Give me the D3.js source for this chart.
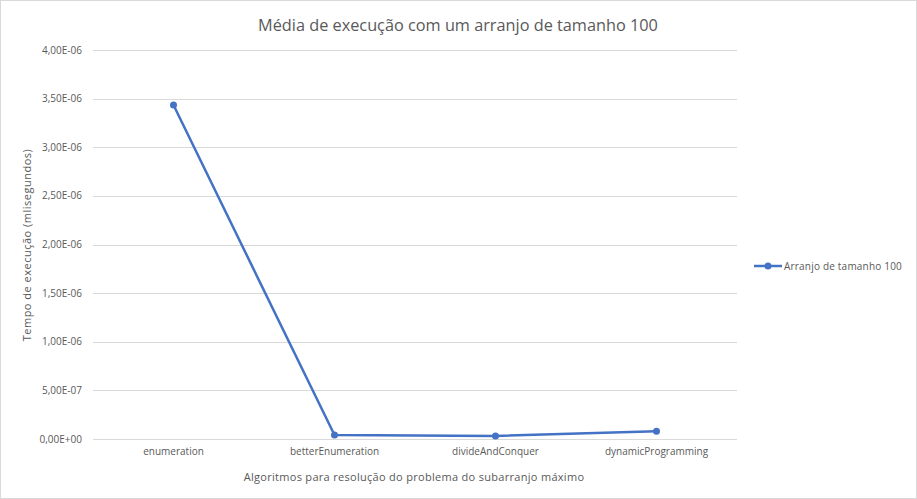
<!DOCTYPE html>
<html><head><meta charset="utf-8">
<script src="https://cdn.jsdelivr.net/npm/d3@7"></script>
<style>body{margin:0;background:#fff}svg{display:block}text{font-family:"Open Sans","Noto Sans",sans-serif}</style>
</head><body><svg id="c" width="917" height="499"></svg>
<script>
const categories = ["enumeration","betterEnumeration","divideAndConquer","dynamicProgramming"];
const values = [3.434e-6, 4.1e-8, 3.1e-8, 7.9e-8];
const yTicks = [0,5e-7,1e-6,1.5e-6,2e-6,2.5e-6,3e-6,3.5e-6,4e-6];
const seriesName = "Arranjo de tamanho 100";
const title = "Média de execução com um arranjo de tamanho 100";
const xTitle = "Algoritmos para resolução do problema do subarranjo máximo";
const yTitle = "Tempo de execução (mlisegundos)";

const svg = d3.select("#c");
svg.append("rect").attr("x",0.5).attr("y",0.5).attr("width",916).attr("height",498).attr("fill","#fff").attr("stroke","#d9d9d9");
const L=93,R=737,T=50,B=439;
const x = d3.scaleBand().domain(categories).range([L,R]);
const y = d3.scaleLinear().domain([0,4e-6]).range([B,T]);
const fmt = v => { const s = v.toExponential(2).toUpperCase().replace(".",","); return s.replace(/E([+-])(\d)$/,"E$10$2"); };
const grid = svg.append("g");
yTicks.forEach(t=>{
  grid.append("line").attr("x1",L).attr("x2",R).attr("y1",Math.round(y(t))+0.5).attr("y2",Math.round(y(t))+0.5).attr("stroke","#d9d9d9");
  grid.append("text").attr("x",82).attr("y",y(t)).attr("dy","0.35em").attr("text-anchor","end").attr("font-size",10).attr("fill","#595959").text(fmt(t));
});
const xa = svg.append("g").attr("transform",`translate(0,${B})`).call(d3.axisBottom(x).tickSize(0).tickPadding(9));
xa.select(".domain").remove();
xa.selectAll("text").attr("font-size",10).attr("fill","#595959").style("font-family",'"Open Sans",sans-serif');
const line = d3.line().x(d=>x(d[0])+x.bandwidth()/2).y(d=>y(d[1]));
const pts = categories.map((c,i)=>[c,values[i]]);
svg.append("path").datum(pts).attr("d",line).attr("fill","none").attr("stroke","#4472C4").attr("stroke-width",2.5).attr("stroke-linejoin","round");
svg.selectAll("circle.p").data(pts).enter().append("circle").attr("cx",d=>x(d[0])+x.bandwidth()/2).attr("cy",d=>y(d[1])).attr("r",3.5).attr("fill","#4472C4");
svg.append("text").attr("x",458).attr("y",31).attr("text-anchor","middle").attr("font-size",16.3).attr("fill","#595959").text(title);
svg.append("text").attr("x",414).attr("y",481).attr("text-anchor","middle").attr("font-size",11).attr("letter-spacing",0.3).attr("fill","#595959").text(xTitle);
svg.append("text").attr("transform","translate(31,245) rotate(-90)").attr("text-anchor","middle").attr("font-size",11).attr("letter-spacing",0.5).attr("fill","#595959").text(yTitle);
const lg = svg.append("g");
lg.append("line").attr("x1",754).attr("x2",782).attr("y1",266).attr("y2",266).attr("stroke","#4472C4").attr("stroke-width",2.5);
lg.append("circle").attr("cx",768).attr("cy",266).attr("r",3.5).attr("fill","#4472C4");
lg.append("text").attr("x",784).attr("y",266).attr("dy","0.35em").attr("font-size",10).attr("letter-spacing",0.2).attr("fill","#595959").text(seriesName);
</script></body></html>
